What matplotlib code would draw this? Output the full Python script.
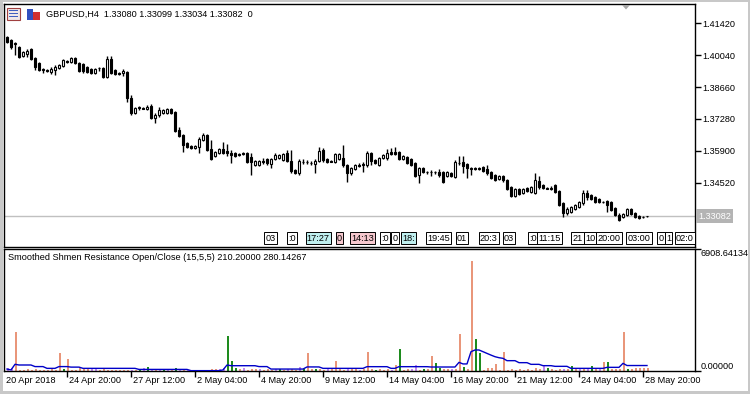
import matplotlib
matplotlib.use("Agg")
import matplotlib.pyplot as plt
from matplotlib.patches import Rectangle, Polygon
import matplotlib.transforms as mtransforms
import numpy as np

plt.rcParams['font.family'] = ['Liberation Sans', 'DejaVu Sans']
FS = 6.6

# ---------------- data ----------------
opens = [1.40827, 1.40698, 1.40568, 1.40395, 1.40005, 1.40092, 1.40308, 1.39919, 1.39703, 1.39443,
         1.39400, 1.39313, 1.39400, 1.39486, 1.39573, 1.39789, 1.39746, 1.39919, 1.39703, 1.39659,
         1.39530, 1.39443, 1.39270, 1.39486, 1.39486, 1.39097, 1.39876, 1.39400, 1.39270, 1.39270,
         1.39313, 1.38189, 1.37539, 1.37799, 1.37756, 1.37712, 1.37842, 1.37323, 1.37453, 1.37539,
         1.37539, 1.37712, 1.37583, 1.36804, 1.36588, 1.36242, 1.36112, 1.36026, 1.36069, 1.36372,
         1.36588, 1.35983, 1.35679, 1.35809, 1.35983, 1.35896, 1.35809, 1.35809, 1.35766, 1.35809,
         1.35809, 1.35636, 1.35290, 1.35290, 1.35463, 1.35549, 1.35333, 1.35549, 1.35592, 1.35506,
         1.35809, 1.35463, 1.35074, 1.34944, 1.35419, 1.35419, 1.35376, 1.35333, 1.35463, 1.35939,
         1.35549, 1.35463, 1.35419, 1.35549, 1.35592, 1.35290, 1.34944, 1.35117, 1.35290, 1.35333,
         1.35290, 1.35809, 1.35506, 1.35290, 1.35592, 1.35592, 1.35852, 1.35852, 1.35852, 1.35549,
         1.35636, 1.35549, 1.35376, 1.34858, 1.35160, 1.34987, 1.34987, 1.34987, 1.34987, 1.34987,
         1.34814, 1.34944, 1.34771, 1.35376, 1.35419, 1.35333, 1.35160, 1.35160, 1.35160, 1.35203,
         1.35117, 1.34987, 1.34858, 1.34685, 1.34814, 1.34641, 1.34339, 1.33949, 1.34252, 1.34079,
         1.34295, 1.34122, 1.34079, 1.34598, 1.34425, 1.34295, 1.34295, 1.34425, 1.34166, 1.33646,
         1.33213, 1.33256, 1.33386, 1.33473, 1.33646, 1.34079, 1.33992, 1.33906, 1.33819, 1.33689,
         1.33733, 1.33689, 1.33430, 1.33127, 1.33040, 1.33127, 1.33386, 1.33213, 1.33084, 1.33040,
         1.33080]
highs = [1.40871, 1.40741, 1.40611, 1.40438, 1.40222, 1.40308, 1.40352, 1.39962, 1.39746, 1.39486,
         1.39443, 1.39530, 1.39616, 1.39659, 1.39876, 1.39832, 1.39962, 1.39962, 1.39746, 1.39703,
         1.39573, 1.39486, 1.39486, 1.39530, 1.39530, 1.40005, 1.40005, 1.39443, 1.39313, 1.39443,
         1.39357, 1.38319, 1.37799, 1.37842, 1.37799, 1.37886, 1.37929, 1.37539, 1.37799, 1.37712,
         1.37756, 1.37756, 1.37626, 1.36934, 1.36631, 1.36285, 1.36156, 1.36156, 1.36501, 1.36674,
         1.36631, 1.36372, 1.35896, 1.36026, 1.36285, 1.36199, 1.35939, 1.35852, 1.35809, 1.35852,
         1.35852, 1.35809, 1.35506, 1.35506, 1.35592, 1.35592, 1.35592, 1.35809, 1.35766, 1.35809,
         1.35939, 1.35939, 1.35117, 1.35549, 1.35549, 1.35506, 1.35463, 1.35549, 1.36069, 1.36026,
         1.35592, 1.35506, 1.35809, 1.35809, 1.36156, 1.35333, 1.35203, 1.35333, 1.35376, 1.35419,
         1.35896, 1.35852, 1.35549, 1.35636, 1.35766, 1.35983, 1.36026, 1.36069, 1.35896, 1.35723,
         1.35679, 1.35592, 1.35419, 1.35203, 1.35203, 1.35031, 1.35074, 1.35031, 1.35117, 1.35031,
         1.35031, 1.34987, 1.35506, 1.35679, 1.35679, 1.35376, 1.35203, 1.35203, 1.35203, 1.35246,
         1.35290, 1.35031, 1.34901, 1.34858, 1.34858, 1.34685, 1.34382, 1.34295, 1.34295, 1.34295,
         1.34339, 1.34382, 1.34944, 1.34814, 1.34468, 1.34339, 1.34382, 1.34468, 1.34209, 1.33689,
         1.33473, 1.33516, 1.33603, 1.33733, 1.34209, 1.34209, 1.34036, 1.33949, 1.33862, 1.33733,
         1.33776, 1.33733, 1.33473, 1.33213, 1.33213, 1.33430, 1.33430, 1.33256, 1.33127, 1.33084,
         1.33099]
lows = [1.40568, 1.40308, 1.40049, 1.39919, 1.39962, 1.39962, 1.39832, 1.39400, 1.39357, 1.39270,
        1.39313, 1.39227, 1.39183, 1.39443, 1.39530, 1.39703, 1.39703, 1.39659, 1.39313, 1.39270,
        1.39270, 1.39227, 1.39227, 1.39357, 1.39054, 1.39054, 1.39227, 1.39183, 1.39183, 1.39140,
        1.38015, 1.37453, 1.37496, 1.37669, 1.37712, 1.37669, 1.37280, 1.37107, 1.37366, 1.37496,
        1.37496, 1.37496, 1.36718, 1.36501, 1.35852, 1.36026, 1.35983, 1.35983, 1.35809, 1.36329,
        1.35896, 1.35506, 1.35636, 1.35766, 1.35766, 1.35679, 1.35376, 1.35636, 1.35679, 1.35723,
        1.35376, 1.34858, 1.35246, 1.35246, 1.35333, 1.35290, 1.35160, 1.35506, 1.35549, 1.35463,
        1.35419, 1.34944, 1.34901, 1.34858, 1.35333, 1.35333, 1.35290, 1.34944, 1.35419, 1.35419,
        1.35376, 1.35419, 1.35376, 1.35506, 1.35203, 1.34555, 1.34858, 1.35074, 1.35203, 1.34987,
        1.35203, 1.35290, 1.35333, 1.35246, 1.35549, 1.35506, 1.35723, 1.35723, 1.35506, 1.35506,
        1.35333, 1.35246, 1.34771, 1.34512, 1.34944, 1.34901, 1.34814, 1.34901, 1.34771, 1.34512,
        1.34771, 1.34771, 1.34728, 1.35290, 1.34944, 1.34728, 1.34858, 1.35074, 1.35074, 1.34987,
        1.34858, 1.34685, 1.34598, 1.34641, 1.34555, 1.34209, 1.33906, 1.33906, 1.33992, 1.34036,
        1.34122, 1.34079, 1.34036, 1.34252, 1.34252, 1.34252, 1.34209, 1.34079, 1.33516, 1.33040,
        1.33127, 1.33213, 1.33343, 1.33430, 1.33560, 1.33776, 1.33776, 1.33646, 1.33646, 1.33646,
        1.33256, 1.33300, 1.33084, 1.32868, 1.32997, 1.33084, 1.33127, 1.32997, 1.32954, 1.32997,
        1.33034]
closes = [1.40611, 1.40395, 1.40546, 1.39962, 1.40179, 1.40222, 1.39876, 1.39530, 1.39400, 1.39421,
          1.39378, 1.39443, 1.39530, 1.39616, 1.39832, 1.39767, 1.39919, 1.39703, 1.39357, 1.39357,
          1.39313, 1.39270, 1.39443, 1.39465, 1.39097, 1.39876, 1.39270, 1.39227, 1.39227, 1.39357,
          1.38189, 1.37539, 1.37756, 1.37777, 1.37734, 1.37799, 1.37323, 1.37453, 1.37669, 1.37669,
          1.37712, 1.37539, 1.36761, 1.36544, 1.36156, 1.36069, 1.36026, 1.36112, 1.36415, 1.36588,
          1.35939, 1.35549, 1.35852, 1.35983, 1.35809, 1.35809, 1.35723, 1.35679, 1.35744, 1.35787,
          1.35419, 1.35419, 1.35463, 1.35463, 1.35441, 1.35376, 1.35549, 1.35723, 1.35723, 1.35766,
          1.35463, 1.35031, 1.34944, 1.35463, 1.35398, 1.35398, 1.35355, 1.35463, 1.35896, 1.35506,
          1.35419, 1.35441, 1.35766, 1.35766, 1.35290, 1.34944, 1.35160, 1.35290, 1.35268, 1.35311,
          1.35809, 1.35463, 1.35376, 1.35592, 1.35723, 1.35809, 1.35766, 1.35766, 1.35549, 1.35679,
          1.35376, 1.35290, 1.34814, 1.35160, 1.34987, 1.34966, 1.34966, 1.34966, 1.34858, 1.34555,
          1.34987, 1.34814, 1.35419, 1.35355, 1.35246, 1.35160, 1.35138, 1.35138, 1.35138, 1.35031,
          1.34944, 1.34728, 1.34641, 1.34814, 1.34641, 1.34252, 1.33949, 1.34252, 1.34036, 1.34252,
          1.34166, 1.34339, 1.34641, 1.34339, 1.34295, 1.34273, 1.34273, 1.34122, 1.33560, 1.33213,
          1.33386, 1.33473, 1.33560, 1.33689, 1.34079, 1.33906, 1.33819, 1.33689, 1.33689, 1.33668,
          1.33560, 1.33343, 1.33127, 1.32911, 1.33170, 1.33386, 1.33170, 1.33040, 1.32997, 1.33019,
          1.33082]

# indicator histogram: colour kind per bar (S salmon, G green, V violet), one row = 10 bars
hist_kind = list("VVSSSSSSSS" "SSSSGSSSSS" "SVVSSSSSSS" "SVSGVGVSVG" "VSGVSVSVSS"
                 "VSSVVGGGSV" "SSSVSSSVGS" "VSSVGSSGSS" "VSSSSVSSVS" "SSGSSSVSGS"
                 "SVVSGSSGGS" "SVSSGSSGGS" "SSSSSSSSSS" "SSSSVGSSSV" "SGSVSVGSVS"
                 "GSSSSGSSSS" "S")
hist_values = [180, 150, 2190, 80, 80, 100, 80, 100, 70, 80,
               70, 90, 80, 1040, 120, 680, 80, 80, 160, 170,
               100, 120, 90, 70, 90, 70, 80, 60, 70, 60,
               80, 70, 70, 90, 160, 220, 100, 80, 110, 100,
               80, 70, 150, 80, 60, 60, 50, 60, 70, 80,
               60, 110, 100, 110, 170, 2000, 570, 150, 110, 160,
               80, 100, 90, 120, 80, 90, 70, 90, 100, 80,
               140, 90, 70, 240, 90, 1040, 120, 110, 90, 70,
               100, 90, 570, 100, 80, 120, 90, 90, 80, 100,
               1090, 100, 80, 90, 80, 100, 80, 340, 1250, 80,
               90, 90, 340, 80, 90, 90, 850, 470, 190, 90,
               90, 100, 100, 2100, 250, 100, 6230, 1810, 1000, 80,
               160, 150, 400, 80, 1060, 80, 100, 80, 100, 80,
               100, 80, 150, 120, 340, 150, 100, 80, 100, 100,
               100, 280, 100, 120, 100, 110, 280, 100, 150, 530,
               530, 100, 90, 100, 2190, 90, 140, 160, 150, 180,
               160]
line_values = [110, 60, 380, 340, 340, 340, 340, 250, 250, 250,
               150, 150, 150, 250, 250, 250, 220, 220, 220, 150,
               150, 150, 150, 150, 150, 150, 150, 150, 150, 150,
               150, 150, 150, 90, 90, 90, 90, 90, 90, 90,
               90, 90, 90, 90, 90, 90, 20, 20, 20, 20,
               20, 20, 20, 20, 60, 340, 300, 300, 300, 300,
               300, 300, 300, 250, 250, 250, 110, 110, 110, 110,
               110, 110, 110, 110, 110, 230, 230, 230, 230, 150,
               150, 150, 150, 150, 150, 150, 150, 150, 150, 150,
               245, 245, 245, 245, 245, 245, 150, 150, 245, 245,
               245, 245, 245, 245, 245, 245, 226, 226, 226, 226,
               226, 226, 226, 490, 400, 400, 1093, 1190, 1190, 1093,
               1000, 900, 810, 753, 717, 585, 585, 585, 472, 472,
               472, 377, 377, 377, 302, 302, 302, 264, 264, 264,
               264, 150, 150, 150, 150, 150, 150, 150, 150, 150,
               207, 207, 207, 207, 434, 310, 310, 310, 310, 310,
               310]

price_ticks = [1.41420, 1.40040, 1.38660, 1.37280, 1.35900, 1.34520]
last_price = 1.33082
ind_max = 6908.64134
time_tick_pos = [0, 15, 31, 47, 63, 79, 95, 111, 127, 143, 159]
time_tick_labels = ["20 Apr 2018", "24 Apr 20:00", "27 Apr 12:00", "2 May 04:00", "4 May 20:00",
                    "9 May 12:00", "14 May 04:00", "16 May 20:00", "21 May 12:00", "24 May 04:00",
                    "28 May 20:00"]
title_text = "GBPUSD,H4  1.33080 1.33099 1.33034 1.33082  0"
ind_title = "Smoothed Shmen Resistance Open/Close (15,5,5) 210.20000 280.14267"

# chart objects (time labels) along bottom of main pane: bar index, text, colour
obj_pos = [65.9, 71.3, 77.8, 83.1, 88.9, 94.5, 97.0, 100.3, 107.9, 113.8, 120.4, 125.5,
           131.4, 135.6, 142.6, 145.8, 150.5, 158.0, 163.5, 165.4, 169.5]
obj_text = ["03", ":0", "17:27", "0", "14:13", ":0", "0", "18:", "19:45", "01", "20:3", "03",
            ":0", "11:15", "21", "10", "20:00", "03:00", "0", "1", "02:0"]
obj_col = ["w", "w", "c", "p", "p", "w", "w", "c", "w", "w", "w", "w",
           "w", "w", "w", "w", "w", "w", "w", "w", "w"]

# ---------------- figure ----------------
W, H = 750, 394
fig = plt.figure(figsize=(7.5, 3.94), dpi=100)
fig.patch.set_facecolor('white')


def fx(px):
    return px / W


def fy(py):
    return 1 - py / H


ax = fig.add_axes([fx(4), fy(246.5), fx(695) - fx(4), fy(4) - fy(246.5)])
ax2 = fig.add_axes([fx(4), fy(371), fx(695) - fx(4), fy(249) - fy(371)])

XMIN, XMAX = -0.75, 172.0
for a in (ax, ax2):
    a.set_xlim(XMIN, XMAX)
    for s in a.spines.values():
        s.set_color('black')
        s.set_linewidth(1.0)

# candles
idx = np.arange(len(opens))
o = np.array(opens)
c = np.array(closes)
ax.vlines(idx, lows, highs, color='black', lw=1.0, zorder=2)
bottoms = np.minimum(o, c)
heights = np.abs(c - o)
fills = ['white' if cc >= oo else 'black' for oo, cc in zip(o, c)]
ax.bar(idx, heights, bottom=bottoms, width=0.55, color=fills, edgecolor='black', lw=0.8, zorder=3)

ax.set_ylim(1.31764, 1.42255)
ax.axhline(last_price, color='#C0C0C0', lw=1.0, zorder=1)

ax.yaxis.tick_right()
ax.set_yticks(price_ticks)
ax.set_yticklabels([f"{t:.5f}" for t in price_ticks])
ax.tick_params(axis='y', direction='out', length=4, width=1, pad=1.5, labelsize=FS)
ax.tick_params(axis='x', length=0, labelbottom=False)
ax.text(1.0045, last_price, f"{last_price:.5f}",
        transform=mtransforms.blended_transform_factory(ax.transAxes, ax.transData),
        ha='left', va='center', fontsize=FS, color='white',
        bbox=dict(boxstyle='square,pad=0.25', fc='#B4B4B4', ec='none'))

# chart objects row
tr_obj = mtransforms.blended_transform_factory(ax.transData, ax.transAxes)
colmap = {"w": "white", "c": "#BFEFEF", "p": "#F6C8CE"}
for p, t, cc in zip(obj_pos, obj_text, obj_col):
    ax.text(p, 0.035, t, transform=tr_obj, ha='center', va='center', fontsize=FS, clip_on=True,
            bbox=dict(boxstyle='square,pad=0.12', fc=colmap[cc], ec='black', lw=0.7), zorder=5)

# indicator
hcolors = {'S': '#E9967A', 'G': '#1E8B1E', 'V': '#C58AF0'}
ax2.bar(idx + 0.2, hist_values, width=0.5, color=[hcolors[k] for k in hist_kind], zorder=2)
ax2.plot(idx, line_values, color='#0000C8', lw=1.0, zorder=3)
ax2.set_ylim(0, ind_max)
ax2.yaxis.tick_right()
ax2.set_yticks([0, ind_max])
ax2.set_yticklabels([])
ax2.tick_params(axis='y', direction='out', length=4, width=1)
ax2.text(1.0085, 1.0, f"{ind_max:.5f}", transform=ax2.transAxes, ha='left', va='top', fontsize=FS)
ax2.text(1.0085, 0.0, f"{0:.5f}", transform=ax2.transAxes, ha='left', va='bottom', fontsize=FS)
ax2.text(0.006, 0.97, ind_title, transform=ax2.transAxes, ha='left', va='top', fontsize=FS)

ax2.set_xticks(time_tick_pos[1:])
ax2.set_xticklabels([])
ax2.tick_params(axis='x', direction='out', length=4, width=1)
tr_lab = mtransforms.blended_transform_factory(ax2.transData, ax2.transAxes)
off = mtransforms.ScaledTranslation(2 / 100, 0, fig.dpi_scale_trans)
for i, (p, lab) in enumerate(zip(time_tick_pos, time_tick_labels)):
    xpos = XMIN if i == 0 else p
    ax2.text(xpos, -0.075, lab, transform=tr_lab + off, ha='left', va='center', fontsize=FS)

# header
fig.text(fx(46), fy(14), title_text, ha='left', va='center', fontsize=FS)
# icons
fig.patches.append(Rectangle((fx(7), fy(20)), fx(13), fy(8) - fy(20), transform=fig.transFigure,
                             fc='#F0E8E8', ec='#A04040', lw=0.8))
for k in range(3):
    fig.patches.append(Rectangle((fx(9), fy(11 + 3 * k)), fx(9), fy(10) - fy(11), transform=fig.transFigure,
                                 fc='#4060C0', ec='none'))
fig.patches.append(Rectangle((fx(27), fy(20)), fx(6), fy(9) - fy(20), transform=fig.transFigure,
                             fc='#3050C0', ec='none'))
fig.patches.append(Rectangle((fx(33), fy(20)), fx(7), fy(12) - fy(20), transform=fig.transFigure,
                             fc='#D03030', ec='none'))
# shift marker
fig.patches.append(Polygon([(fx(622), fy(5)), (fx(630), fy(5)), (fx(626), fy(9.5))], closed=True,
                           transform=fig.transFigure, fc='#A8A8A8', ec='none'))
# window border
for r in [(0, 0, 750, 2), (0, 0, 3, 394), (0, 391, 750, 3), (748, 0, 2, 394)]:
    fig.patches.append(Rectangle((fx(r[0]), fy(r[1] + r[3])), r[2] / W, r[3] / H, transform=fig.transFigure,
                                 fc='#C8C8C8', ec='none'))

fig.savefig('out.png', dpi=100)
